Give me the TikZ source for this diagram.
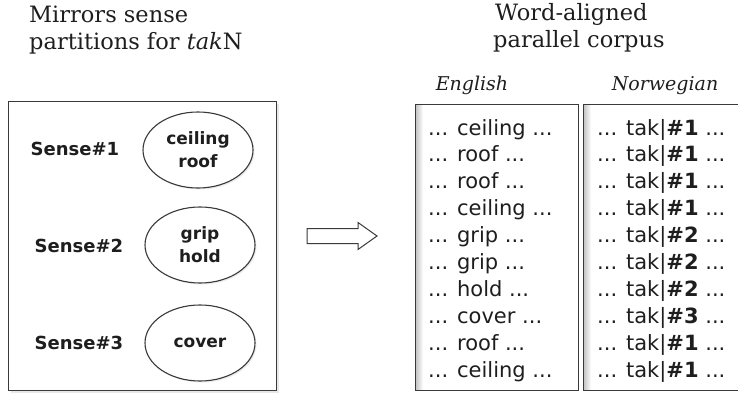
\documentclass[tikz,border=0pt]{standalone}
\usepackage{fontspec}
\setmainfont{DejaVu Serif}
\newfontfamily\uisans{DejaVu Sans}
\usetikzlibrary{shapes.geometric,shadows}
\definecolor{ink}{HTML}{1E1E1E}
\definecolor{rule}{HTML}{3A3A3A}
\begin{document}
\begin{tikzpicture}[x=1pt,y=-1pt,
  heading/.style={font=\fontsize{22.5}{27}\selectfont, text=ink, anchor=base west, inner sep=0},
  colhead/.style={font=\fontsize{19}{23}\selectfont\itshape, text=ink, anchor=base, inner sep=0},
  panel/.style={draw=rule, line width=1.2pt, fill=white, anchor=north west, inner sep=0},
  softshadow/.style={drop shadow={opacity=0.18, shadow xshift=2pt, shadow yshift=-2pt}},
  senselabel/.style={font=\uisans\bfseries\fontsize{18}{22}\selectfont, text=ink, inner sep=0},
  sensebubble/.style={ellipse, draw=rule, line width=1.1pt, fill=white, minimum width=110pt,
    minimum height=76pt, inner sep=1pt, align=center,
    font=\uisans\bfseries\fontsize{17}{23}\selectfont, text=ink,
    drop shadow={opacity=0.15, shadow xshift=1.5pt, shadow yshift=-1.5pt}},
  corpusline/.style={font=\uisans\fontsize{21}{27}\selectfont, text=ink, anchor=base west, inner sep=0},
]
\useasboundingbox (0,0) rectangle (738,396);

% titles
\node[heading] (lt1) at (29,23) {Mirrors sense};
\node[heading] (lt2) at (29,49) {partitions for \textit{tak}N};
\node[heading] (rt1) at (495,21) {Word-aligned};
\node[heading] (rt2) at (493,48) {parallel corpus};

% sense partitions panel
\node[panel, softshadow, minimum width=268pt, minimum height=289pt] (senses) at (8,101) {};
\node[senselabel] (s1) at (75,149) {Sense\#1};
\node[senselabel] (s2) at (79,246) {Sense\#2};
\node[senselabel] (s3) at (79,343) {Sense\#3};
\node[sensebubble] (b1) at (198,150) {ceiling\\roof};
\node[sensebubble] (b2) at (200,245) {grip\\hold};
\node[sensebubble] (b3) at (200,343) {cover};

% block arrow
\coordinate (arrtail) at (307,236);
\draw[rule, line width=1pt, fill=white]
  (arrtail) ++(0,-7.5) -- ++(51,0) -- ++(0,-6) -- (377,236) -- (358,249.5)
  -- ++(0,-6) -- ++(-51,0) -- cycle;

% corpus columns
\node[colhead] (hen) at (472,90) {English};
\node[colhead] (hno) at (665,90) {Norwegian};
\node[panel, minimum width=163pt, minimum height=286pt] (en) at (415,104) {};
\node[panel, minimum width=170pt, minimum height=286pt] (no) at (583,104) {};
\shade[left color=black!22, right color=white] (416,105) rectangle (423,389);
\shade[left color=black!22, right color=white] (584,105) rectangle (591,389);

\foreach \w/\n [count=\i from 0] in
  {ceiling/1, roof/1, roof/1, ceiling/1, grip/2, grip/2, hold/2, cover/3, roof/1, ceiling/1}
{
  \node[corpusline] (en\i) at (428,{135+26.9*\i}) {... \w\ ...};
  \node[corpusline] (no\i) at (597,{135+26.9*\i}) {... tak|\textbf{\#\n} ...};
}
\end{tikzpicture}
\end{document}
